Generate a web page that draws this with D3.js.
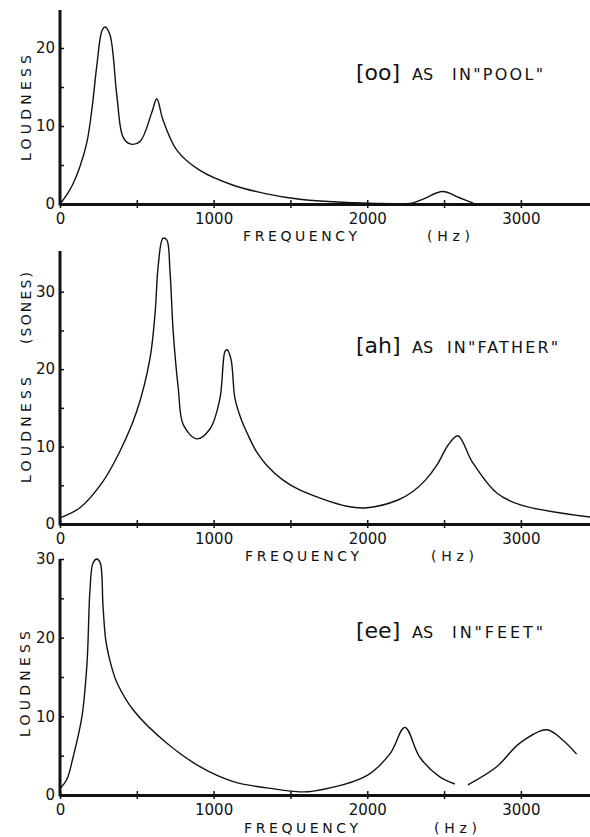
<!DOCTYPE html>
<html>
<head>
<meta charset="utf-8">
<script src="https://cdn.jsdelivr.net/npm/d3@7"></script>
<style>
  body { margin: 0; background: #fff; }
  svg text { font-family: "DejaVu Sans", sans-serif; fill: #111; }
</style>
</head>
<body>
<div id="container"></div>
<script>
// chart values (frequency in Hz, loudness in sones)
const ooFreq = [0, 45, 85, 130, 176, 210, 240, 273, 293, 325, 370, 410, 455, 520, 597, 630, 670, 760, 911, 1128, 1345, 1560, 1867, 2297, 2360, 2492, 2600, 2690];
const ooLoud = [0, 1.2, 2.6, 4.8, 8, 12.5, 17.8, 22.2, 22.7, 21.7, 13.9, 8.6, 7.7, 8, 11.7, 13.5, 10.8, 6.9, 4.3, 2.4, 1.3, 0.6, 0.2, 0.15, 0.6, 1.6, 0.8, 0.1];

const ahFreq = [0, 130, 273, 390, 500, 585, 618, 640, 670, 695, 716, 737, 770, 803, 890, 977, 1041, 1074, 1087, 1113, 1139, 1180, 1224, 1280, 1345, 1450, 1560, 1867, 2000, 2200, 2297, 2380, 2453, 2530, 2590, 2687, 2843, 2993, 3450];
const ahLoud = [0.8, 2.1, 5.3, 9.4, 14.6, 21.3, 27, 33.5, 36.9, 36.7, 32.6, 24.8, 17.5, 12.8, 11, 12.3, 16.2, 22.3, 22.5, 21.3, 16.2, 13.5, 11.5, 9.3, 7.6, 5.7, 4.4, 2.3, 2.1, 3.1, 4.2, 5.7, 7.6, 10.3, 11.4, 7.9, 4, 2.5, 0.9];

// the [ee] trace has a small break near 2600 Hz
const eeFreq = [0, 45, 85, 143, 176, 195, 215, 240, 262, 280, 300, 340, 370, 477, 694, 911, 1128, 1345, 1560, 1650, 2000, 2150, 2245, 2342, 2472, 2570, 2610, 2655, 2843, 2993, 3168, 3272, 3363];
const eeLoud = [0.8, 2, 4.8, 10, 16.8, 26, 29.5, 30, 29.5, 24, 19.4, 16, 14.3, 10.8, 6.6, 3.6, 1.7, 0.9, 0.4, 0.5, 2.5, 5.3, 8.6, 4.8, 2.3, 1.4, null, 1.3, 3.6, 6.6, 8.3, 7, 5.2];

const freqTicks = [0, 500, 1000, 1500, 2000, 2500, 3000];
const freqLabels = [0, 1000, 2000, 3000];
const freqMax = 3450;

const vowels = [
  {key: "oo", word: "IN\"POOL\"", freq: ooFreq, loud: ooLoud, yMax: 25, yTicks: [0, 5, 10, 15, 20], yLabel: ["LOUDNESS"]},
  {key: "ah", word: "IN\"FATHER\"", freq: ahFreq, loud: ahLoud, yMax: 35, yTicks: [0, 5, 10, 15, 20, 25, 30], yLabel: ["LOUDNESS", "(SONES)"]},
  {key: "ee", word: "IN\"FEET\"", freq: eeFreq, loud: eeLoud, yMax: 30, yTicks: [0, 5, 10, 15, 20, 25, 30], yLabel: ["LOUDNESS"]}
];

// page layout for each panel
const width = 590, height = 837;
const left = 60;
const layout = [
  {base: 204, top: 9,   axisTop: 10,  titleY: 80,  wordW: 91,  labelY: 241, freqX: 243, hzX: 427, loudY: [108]},
  {base: 524, top: 253, axisTop: 251, titleY: 353, wordW: 111, labelY: 561, freqX: 245, hzX: 431, loudY: [430, 308]},
  {base: 795, top: 559, axisTop: 559, titleY: 638, wordW: 91,  labelY: 833, freqX: 244, hzX: 434, loudY: [684]}
];

const svg = d3.select("#container")
  .append("svg")
  .attr("width", width)
  .attr("height", height);

const xScale = d3.scaleLinear()
  .domain([0, freqMax])
  .range([left, width]);

vowels.forEach((v, i) => {
  const L = layout[i];
  const g = svg.append("g");

  const yScale = d3.scaleLinear()
    .domain([0, v.yMax])
    .range([L.base, L.top]);

  // x axis: ticks every 500, labels every 1000
  const xAxis = g.append("g")
    .attr("transform", `translate(0,${L.base})`)
    .call(d3.axisBottom(xScale)
      .tickValues(freqTicks)
      .tickSizeOuter(0)
      .tickSizeInner(3)
      .tickPadding(6)
      .tickFormat(d => freqLabels.includes(d) ? d : ""));
  xAxis.select(".domain").attr("stroke", "#111").attr("stroke-width", 3);
  xAxis.selectAll(".tick line").attr("y1", -4).attr("y2", 4).attr("stroke", "#111").attr("stroke-width", 1.5);
  xAxis.selectAll(".tick text").attr("font-size", 15).attr("fill", "#111");

  // y axis: ticks every 5 on the inside, labels every 10
  const yAxis = g.append("g")
    .attr("transform", `translate(${left},0)`)
    .call(d3.axisLeft(yScale)
      .tickValues(v.yTicks)
      .tickSizeOuter(0)
      .tickSizeInner(0)
      .tickPadding(5)
      .tickFormat(d => d % 10 === 0 ? d : ""));
  yAxis.select(".domain").remove();
  yAxis.append("line")
    .attr("y1", L.base + 1.5).attr("y2", L.axisTop)
    .attr("stroke", "#111").attr("stroke-width", 3);
  yAxis.selectAll(".tick line").attr("x1", 0).attr("x2", 4).attr("stroke", "#111").attr("stroke-width", 1.5);
  yAxis.selectAll(".tick text").attr("font-size", 15).attr("fill", "#111");

  // the curve
  const pts = v.freq.map((f, j) => ({f: f, l: v.loud[j]}));
  const line = d3.line()
    .defined(d => d.l !== null)
    .x(d => xScale(d.f))
    .y(d => yScale(d.l))
    .curve(d3.curveCatmullRom.alpha(0.5));

  g.append("path")
    .datum(pts)
    .attr("fill", "none")
    .attr("stroke", "#111")
    .attr("stroke-width", 1.4)
    .attr("d", line);

  // axis titles
  g.append("text")
    .attr("x", L.freqX).attr("y", L.labelY)
    .attr("font-size", 14)
    .attr("textLength", 114).attr("lengthAdjust", "spacing")
    .text("FREQUENCY");
  g.append("text")
    .attr("x", L.hzX).attr("y", L.labelY)
    .attr("font-size", 14)
    .attr("textLength", 43).attr("lengthAdjust", "spacing")
    .text("(Hz)");

  v.yLabel.forEach((lab, k) => {
    const len = lab === "LOUDNESS" ? 106 : 72;
    g.append("text")
      .attr("transform", `translate(${i === 2 ? 30 : 31},${L.loudY[k]}) rotate(-90)`)
      .attr("text-anchor", "middle")
      .attr("font-size", 14)
      .attr("textLength", len).attr("lengthAdjust", "spacing")
      .text(lab);
  });

  // vowel title
  const t = g.append("text").attr("y", L.titleY);
  t.append("tspan")
    .attr("x", 356)
    .attr("font-size", 22)
    .text(`[${v.key}]`);
  t.append("tspan")
    .attr("x", 412)
    .attr("font-size", 16)
    .text("AS");
  g.append("text")
    .attr("x", i === 1 ? 447 : 452).attr("y", L.titleY)
    .attr("font-size", 16)
    .attr("textLength", L.wordW).attr("lengthAdjust", "spacing")
    .text(v.word);
});
</script>
</body>
</html>
